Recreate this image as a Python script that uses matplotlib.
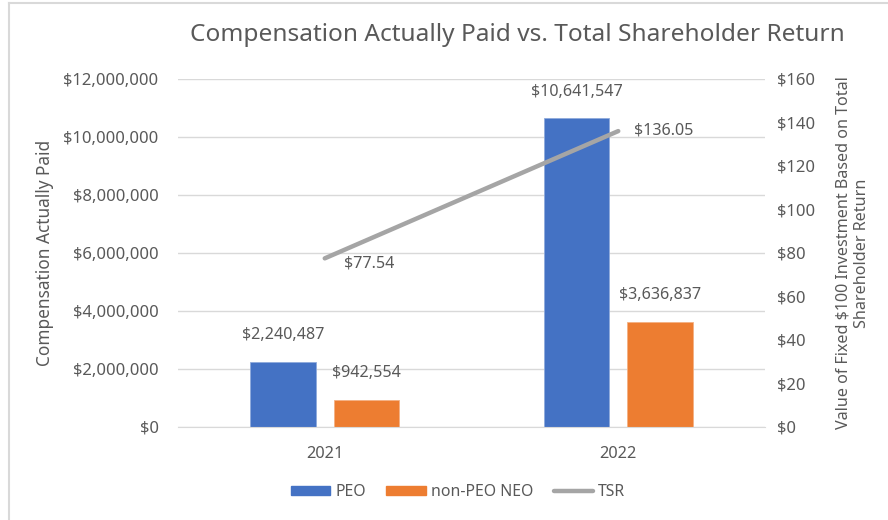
import matplotlib
matplotlib.use("Agg")
import matplotlib.pyplot as plt
import numpy as np
from matplotlib.lines import Line2D
from matplotlib.ticker import FuncFormatter

years = ["2021", "2022"]
peo = [2240487, 10641547]
non_peo_neo = [942554, 3636837]
tsr = [77.54, 136.05]

BLUE = "#4472C4"
ORANGE = "#ED7D31"
GRAY = "#A5A5A5"
TEXT = "#595959"
GRID = "#D9D9D9"

plt.rcParams["font.family"] = ["Noto Sans", "DejaVu Sans"]

fig = plt.figure(figsize=(8.88, 5.2), dpi=100)
ax = fig.add_axes([178 / 888, 1 - 427 / 520, 587 / 888, 348 / 520])
ax2 = ax.twinx()

x = np.arange(len(years))
w = 0.222
off = 0.142
ax.bar(x - off, peo, w, color=BLUE, edgecolor="#8FAADC", linewidth=0.6, zorder=2)
ax.bar(x + off, non_peo_neo, w, color=ORANGE, edgecolor="#F4B183", linewidth=0.6, zorder=2)

for xi, v in zip(x - off, peo):
    ax.text(xi, v + 650000, f"${v:,.0f}", ha="center", va="bottom", fontsize=11.6, color=TEXT)
for xi, v in zip(x + off, non_peo_neo):
    ax.text(xi, v + 650000, f"${v:,.0f}", ha="center", va="bottom", fontsize=11.6, color=TEXT)

ax2.plot(x, tsr, color=GRAY, linewidth=3.2, solid_capstyle="round", zorder=3)
ax2.text(x[0] + 0.065, tsr[0] - 2.5, f"${tsr[0]:.2f}", ha="left", va="center", fontsize=11.6, color=TEXT)
ax2.text(x[1] + 0.055, tsr[1] + 0.5, f"${tsr[1]:.2f}", ha="left", va="center", fontsize=11.6, color=TEXT)

ax.set_xlim(-0.5, 1.5)
ax.set_ylim(0, 12000000)
ax.set_yticks(np.arange(0, 12000001, 2000000))
ax.yaxis.set_major_formatter(FuncFormatter(lambda v, p: f"${v:,.0f}"))
ax2.set_ylim(0, 160)
ax2.set_yticks(np.arange(0, 161, 20))
ax2.yaxis.set_major_formatter(FuncFormatter(lambda v, p: f"${v:,.0f}"))

ax.set_xticks(x)
ax.set_xticklabels(years)
ax.grid(axis="y", color=GRID, linewidth=1, zorder=0)
ax.set_axisbelow(True)

for a in (ax, ax2):
    for s in a.spines.values():
        s.set_visible(False)
    a.tick_params(length=0, colors=TEXT, labelsize=12)
ax.spines["bottom"].set_visible(True)
ax.spines["bottom"].set_color(GRID)
ax.tick_params(axis="x", pad=14, labelsize=11.8)
ax.tick_params(axis="y", pad=14)
ax2.tick_params(axis="y", pad=9)

ax.set_ylabel("Compensation Actually Paid", fontsize=12.4, color=TEXT, labelpad=7)
ax2.set_ylabel("Value of Fixed $100 Investment Based on Total\nShareholder Return",
               fontsize=11.6, color=TEXT, labelpad=14, rotation=90, linespacing=1.25)

fig.text(517 / 888, 1 - 35 / 520, "Compensation Actually Paid vs. Total Shareholder Return",
         ha="center", va="center", fontsize=17.6, color=TEXT)

handles = [
    plt.Rectangle((0, 0), 1, 1, color=BLUE),
    plt.Rectangle((0, 0), 1, 1, color=ORANGE),
    Line2D([0], [0], color=GRAY, linewidth=3.2, solid_capstyle="round"),
]
leg = fig.legend(handles, ["PEO", "non-PEO NEO", "TSR"], loc="center",
                 bbox_to_anchor=(458 / 888, 1 - 492 / 520), ncol=3, frameon=False,
                 fontsize=11.4, handlelength=2.5, handleheight=0.5, columnspacing=1.3,
                 handletextpad=0.3)
for t in leg.get_texts():
    t.set_color(TEXT)

# chart frame (left and top edges visible)
fig.add_artist(Line2D([8.5 / 888, 8.5 / 888], [0, 1 - 3 / 520], color="#D9D9D9", linewidth=1.5))
fig.add_artist(Line2D([8.5 / 888, 1], [1 - 3 / 520, 1 - 3 / 520], color="#D9D9D9", linewidth=1.5))

fig.savefig("out.png", dpi=100)
